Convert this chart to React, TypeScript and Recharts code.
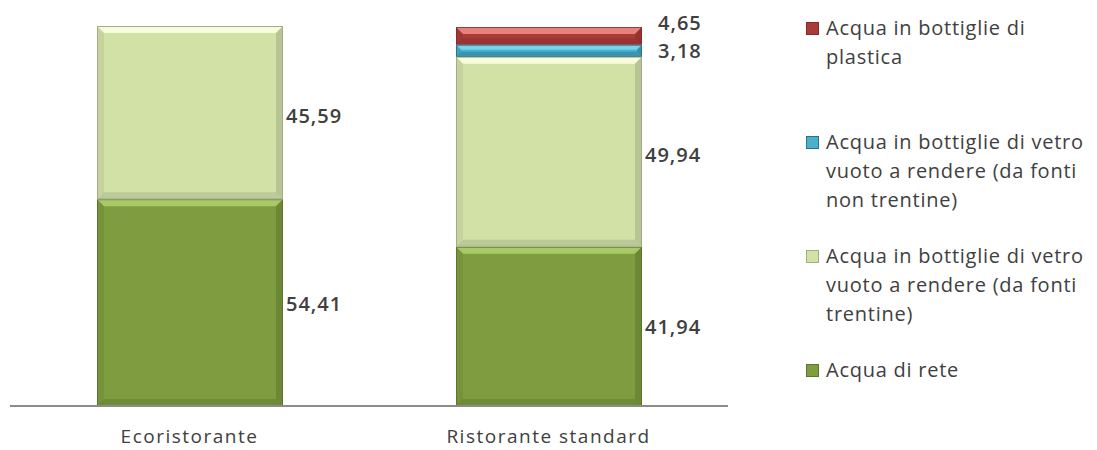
import React from "react";
import { BarChart, Bar, XAxis, YAxis, LabelList } from "recharts";

const categories = ["Ecoristorante", "Ristorante standard"];
const acquaDiRete = [54.41, 41.94];
const vetroTrentine = [45.59, 49.94];
const vetroNonTrentine = [null, 3.18];
const plastica = [null, 4.65];

const SERIES = [
  { key: "rete", name: "Acqua di rete", values: acquaDiRete, fill: "#7f9c41", light: "#a9c866", dark: "#5c772b", dx: 3, dy: 1 },
  { key: "trentine", name: "Acqua in bottiglie di vetro vuoto a rendere (da fonti trentine)", values: vetroTrentine, fill: "#d2e1a6", light: "#f8fcdc", dark: "#a2ad88", dx: 3, dy: 3 },
  { key: "nonTrentine", name: "Acqua in bottiglie di vetro vuoto a rendere (da fonti non trentine)", values: vetroNonTrentine, fill: "#4bb0cc", light: "#74d3ef", dark: "#2c7288", dx: 16, dy: 0 },
  { key: "plastica", name: "Acqua in bottiglie di plastica", values: plastica, fill: "#a93b39", light: "#e8807e", dark: "#852c2a", dx: 16, dy: -13 }
];

const data = categories.map((c, i) => {
  const row: Record<string, string | number | null> = { name: c };
  SERIES.forEach((s) => (row[s.key] = s.values[i]));
  return row;
});

const FONT = "'Open Sans', sans-serif";
const fmt = (v: number) => v.toFixed(2).replace(".", ",");

const bevel = (fill: string, light: string, dark: string) => (props: any) => {
  const { x, y, width: w, height: h } = props;
  if (!h || h <= 0) return <g />;
  const b = Math.min(6, h / 3);
  return (
    <g>
      <rect x={x} y={y} width={w} height={h} fill={dark} />
      <rect x={x + 1} y={y + 1} width={w - 2} height={h - 2} fill={fill} />
      <polygon points={`${x + 1},${y + 1} ${x + w - 1},${y + 1} ${x + w - 1 - b},${y + 1 + b} ${x + 1 + b},${y + 1 + b}`} fill={light} />
      <polygon points={`${x + w - 1},${y + 1} ${x + w - 1},${y + h - 1} ${x + w - 1 - b},${y + h - 1 - b} ${x + w - 1 - b},${y + 1 + b}`} fill={dark} opacity={0.55} />
      <polygon points={`${x + 1},${y + h - 1} ${x + w - 1},${y + h - 1} ${x + w - 1 - b},${y + h - 1 - b} ${x + 1 + b},${y + h - 1 - b}`} fill={dark} opacity={0.45} />
      <polygon points={`${x + 1},${y + 1} ${x + 1 + b},${y + 1 + b} ${x + 1 + b},${y + h - 1 - b} ${x + 1},${y + h - 1}`} fill={dark} opacity={0.25} />
    </g>
  );
};

const makeLabel = (dx: number, dy: number) => (props: any) => {
  const { x, y, width, height, value } = props;
  if (value == null) return null;
  return (
    <text
      x={x + width + dx}
      y={y + height / 2 + dy}
      dy="0.35em"
      fontFamily={FONT}
      fontSize={20}
      fontWeight={600}
      letterSpacing={1}
      fill="#404040"
      textAnchor="start"
    >
      {fmt(value)}
    </text>
  );
};

// legend drawn as html beside the chart (series listed top to bottom like the stack)
const LegendBox = () => (
  <div
    style={{
      position: "absolute",
      top: 13,
      left: 806,
      fontFamily: FONT,
      fontSize: 20,
      letterSpacing: 0.75,
      color: "#404040",
      lineHeight: "29px"
    }}
  >
    {[...SERIES].reverse().map((s, i) => (
      <div key={s.key} style={{ display: "flex", height: i < 3 ? 114 : "auto", alignItems: "flex-start" }}>
        <div
          style={{
            width: 11,
            height: 11,
            marginTop: 9,
            marginRight: 7,
            flex: "none",
            background: s.fill,
            border: `1px solid ${s.dark}`
          }}
        />
        <div style={{ width: 268 }}>{s.name}</div>
      </div>
    ))}
  </div>
);

export default function App() {
  return (
    <div style={{ margin: "-8px 0 0 -8px", background: "#fff", position: "relative", width: 1097, height: 450, overflow: "hidden" }}>
      <BarChart width={1097} height={450} data={data} margin={{ top: 26, right: 369, bottom: 14, left: 10 }}>
        <XAxis
          dataKey="name"
          axisLine={{ stroke: "#8c8c8c", strokeWidth: 2 }}
          tickLine={false}
          tick={{ fontFamily: FONT, fontSize: 19, fill: "#404040", letterSpacing: 1.5 }}
          dy={16}
        />
        <YAxis hide domain={[0, 100]} />
        {SERIES.map((s) => (
          <Bar
            key={s.key}
            dataKey={s.key}
            name={s.name}
            stackId="a"
            barSize={186}
            fill={s.fill}
            shape={bevel(s.fill, s.light, s.dark)}
            isAnimationActive={false}
          >
            <LabelList dataKey={s.key} content={makeLabel(s.dx, s.dy)} />
          </Bar>
        ))}
      </BarChart>
      <LegendBox />
    </div>
  );
}
